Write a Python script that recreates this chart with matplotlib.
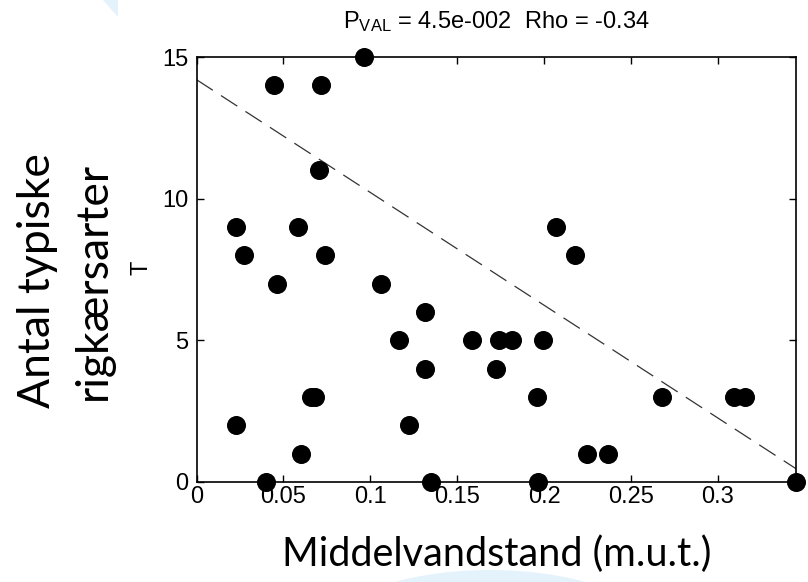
import matplotlib
matplotlib.use("Agg")
import matplotlib.pyplot as plt
from matplotlib.patches import Ellipse, Polygon
import numpy as np

# ---- data ----
x_vals = [0.0229, 0.0583, 0.2066,          # y = 9
          0.0272, 0.0741, 0.2177,          # y = 8
          0.0444, 0.0714,                  # y = 14
          0.0962,                          # y = 15
          0.0703,                          # y = 11
          0.0462, 0.1063,                  # y = 7
          0.1316,                          # y = 6
          0.1163, 0.1584, 0.1738, 0.1814, 0.1992,  # y = 5
          0.1316, 0.1723,                  # y = 4
          0.0658, 0.0684, 0.1957, 0.2677, 0.3091, 0.3155,  # y = 3
          0.0229, 0.1224,                  # y = 2
          0.0601, 0.2248, 0.2369,          # y = 1
          0.0401, 0.1352, 0.1966, 0.3450]  # y = 0
y_vals = [9, 9, 9,
          8, 8, 8,
          14, 14,
          15,
          11,
          7, 7,
          6,
          5, 5, 5, 5, 5,
          4, 4,
          3, 3, 3, 3, 3, 3,
          2, 2,
          1, 1, 1,
          0, 0, 0, 0]
line_intercept = 14.2
line_slope = -39.8

x_ticks = [0, 0.05, 0.1, 0.15, 0.2, 0.25, 0.3]
x_tick_labels = ["0", "0.05", "0.1", "0.15", "0.2", "0.25", "0.3"]
y_ticks = [0, 5, 10, 15]
y_tick_labels = ["0", "5", "10", "15"]

title_text = r"P$_{\mathrm{VAL}}$ = 4.5e-002  Rho = -0.34"
xlabel_text = "Middelvandstand (m.u.t.)"
ylabel_lines = ["Antal typiske", "rigkærsarter"]
ylabel_small = "T"

# ---- styling ----
plt.rcParams["lines.scale_dashes"] = False
plt.rcParams["mathtext.fontset"] = "custom"
plt.rcParams["mathtext.rm"] = "Liberation Sans"
plt.rcParams["mathtext.it"] = "Liberation Sans"
tick_font = ["Liberation Sans Narrow", "Liberation Sans", "DejaVu Sans"]
title_font = ["Liberation Sans", "DejaVu Sans"]
big_font = ["Lato", "DejaVu Sans"]

W, H = 808, 582
fig = plt.figure(figsize=(W / 100, H / 100), dpi=100)

# light blue slide decorations
light_blue = "#e3f2fb"
fig.patches.append(Polygon([[103 / W, 1], [118 / W, 1], [118 / W, 1 - 17 / H]],
                           closed=True, transform=fig.transFigure,
                           facecolor=light_blue, edgecolor="none", zorder=0))
fig.patches.append(Ellipse((490 / W, 1 - 640 / H), 340 / W, 140 / H,
                           transform=fig.transFigure,
                           facecolor=light_blue, edgecolor="none", zorder=0))

left, right, top, bottom = 196.5, 796.0, 57.0, 482.0
ax = fig.add_axes([left / W, 1 - bottom / H, (right - left) / W, (bottom - top) / H])
ax.set_facecolor("white")

xmax = max(x_vals)
ax.set_xlim(0, xmax)
ax.set_ylim(min(y_vals), max(y_vals))

ax.scatter(x_vals, y_vals, s=13.7 ** 2, c="black", marker="o", linewidths=0,
           zorder=3, clip_on=False)

xl = np.array([0, xmax])
ax.plot(xl, line_intercept + line_slope * xl, color="#333333", lw=0.9,
        dashes=(14, 7), zorder=2)

ax.set_xticks(x_ticks)
ax.set_xticklabels(x_tick_labels, family=tick_font, fontsize=17)
ax.set_yticks(y_ticks)
ax.set_yticklabels(y_tick_labels, family=tick_font, fontsize=17)
ax.tick_params(direction="in", length=5, width=1, top=True, right=True,
               colors="black")
ax.tick_params(axis="x", pad=3)
ax.tick_params(axis="y", pad=6)
for sp in ax.spines.values():
    sp.set_linewidth(1.2)
    sp.set_color("black")

ax.set_title(title_text, family=title_font, fontsize=17, pad=21)

# axis labels in slide font
fig.text(497 / W, 1 - 566 / H, xlabel_text, family=big_font, fontsize=28.5,
         ha="center", va="baseline")
fig.text(38 / W, 1 - 281 / H, ylabel_lines[0], family=big_font, fontsize=32,
         rotation=90, ha="center", va="center")
fig.text(93 / W, 1 - 281 / H, ylabel_lines[1], family=big_font, fontsize=32,
         rotation=90, ha="center", va="center")
fig.text(141 / W, 1 - 268 / H, ylabel_small, family=title_font, fontsize=17,
         rotation=90, ha="center", va="center")

fig.savefig("out.png", dpi=100)
